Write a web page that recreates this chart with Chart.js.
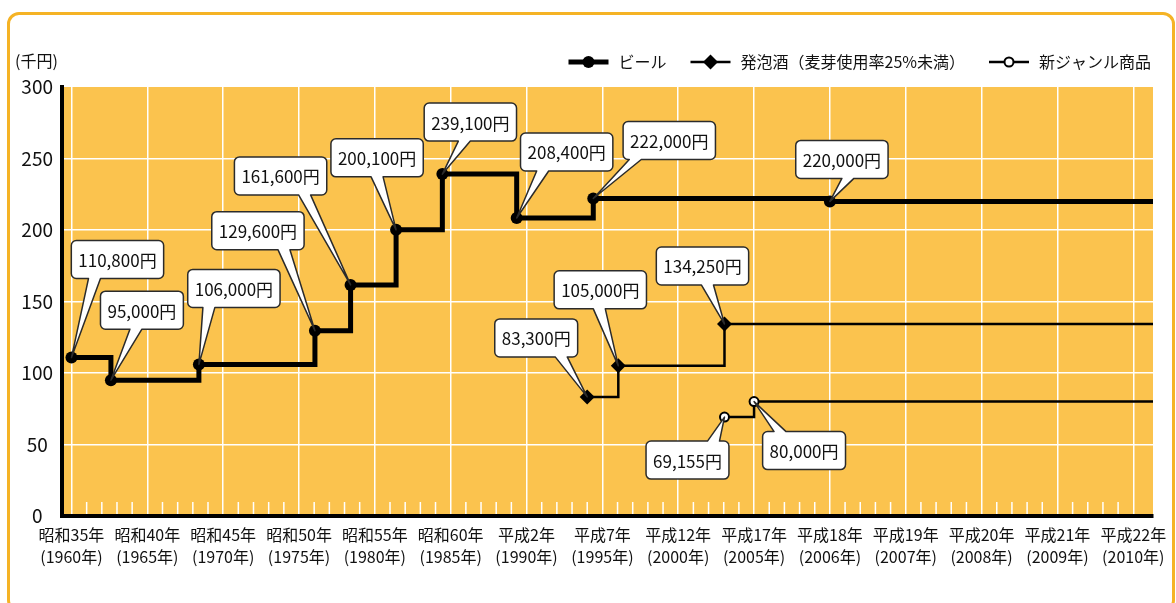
<!DOCTYPE html>
<html lang="ja">
<head>
<meta charset="utf-8">
<title>ビール・発泡酒・新ジャンル商品の税額の推移</title>
<script src="https://cdn.jsdelivr.net/npm/chart.js@4.4.1/dist/chart.umd.min.js"></script>
<style>
  html, body { margin: 0; padding: 0; background: #fff; }
  #wrap { position: relative; width: 1176px; height: 603px; overflow: hidden; }
  #frame {
    position: absolute; left: 7px; top: 12px; width: 1168px; height: 600px;
    border: 3.5px solid #f5b325; border-radius: 12px; box-sizing: border-box;
  }
  #chart { position: absolute; left: 0; top: 0; }
</style>
</head>
<body>
<div id="wrap">
  <div id="frame"></div>
  <canvas id="chart" width="1176" height="603"></canvas>
</div>
<script>
(function() {
  'use strict';

  // x axis: 5-year steps up to 2005, then one step per year
  var tickYears = [1960, 1965, 1970, 1975, 1980, 1985, 1990, 1995, 2000, 2005, 2006, 2007, 2008, 2009, 2010];
  var tickEras = ['昭和35年', '昭和40年', '昭和45年', '昭和50年', '昭和55年', '昭和60年', '平成2年',
    '平成7年', '平成12年', '平成17年', '平成18年', '平成19年', '平成20年', '平成21年', '平成22年'];
  var yTicks = [0, 50, 100, 150, 200, 250, 300];

  var seriesNames = ['ビール', '発泡酒（麦芽使用率25%未満）', '新ジャンル商品'];

  // tax per kl (yen), year of change
  var beerYears = [1960, 1962.6, 1968.4, 1976.05, 1978.4, 1981.4, 1984.45, 1989.35, 1994.4, 2006];
  var beerValues = [110800, 95000, 106000, 129600, 161600, 200100, 239100, 208400, 222000, 220000];
  var happoYears = [1994, 1996.05, 2003.05];
  var happoValues = [83300, 105000, 134250];
  var newYears = [2003.05, 2005];
  var newValues = [69155, 80000];

  // callout placement: box centre offset from point, pointer base offset, side of box
  var beerCallouts = [
    { dx: 46, dy: -117, base: -23, side: 'bottom' },
    { dx: 31, dy: -89, base: -6, side: 'bottom' },
    { dx: 35, dy: -95, base: -25, side: 'bottom' },
    { dx: -57, dy: -119, base: 26, side: 'bottom' },
    { dx: -70, dy: -128, base: 24, side: 'bottom' },
    { dx: -19, dy: -91, base: 0, side: 'bottom' },
    { dx: 28, dy: -71, base: -6, side: 'bottom' },
    { dx: 50, dy: -85, base: -24, side: 'bottom' },
    { dx: 76, dy: -77, base: -34, side: 'bottom' },
    { dx: 12, dy: -61, base: 6, side: 'bottom' }
  ];
  var happoCallouts = [
    { dx: -51, dy: -78, base: 25, side: 'bottom' },
    { dx: -18, dy: -95, base: -1, side: 'bottom' },
    { dx: -22, dy: -77, base: 5, side: 'bottom' }
  ];
  var newCallouts = [
    { dx: -37, dy: 24, base: 26, side: 'top' },
    { dx: 50, dy: 30, base: -24, side: 'top' }
  ];

  var X_MIN = -0.125;
  var X_MAX = 14.26;
  var FONT = '"Noto Sans CJK JP", sans-serif';
  var PLOT_BG = '#fbc34e';

  function yearToPos(y) {
    return y <= 2005 ? (y - 1960) / 5 : 9 + (y - 2005);
  }

  function yen(v) {
    return v.toLocaleString('en-US') + '円';
  }

  function buildData(years, values) {
    var pts = years.map(function(y, i) {
      return { x: yearToPos(y), y: values[i] / 1000 };
    });
    // line runs on to the right edge at the last rate
    pts.push({ x: X_MAX, y: values[values.length - 1] / 1000 });
    return pts;
  }

  function radii(years, r) {
    return years.map(function() { return r; }).concat([0]);
  }

  var datasets = [
    {
      label: seriesNames[0],
      data: buildData(beerYears, beerValues),
      stepped: true,
      borderColor: '#000',
      borderWidth: 5,
      pointStyle: 'circle',
      pointRadius: radii(beerYears, 6),
      pointBackgroundColor: '#000',
      pointBorderColor: '#000',
      pointBorderWidth: 0,
      callouts: beerCallouts,
      values: beerValues
    },
    {
      label: seriesNames[1],
      data: buildData(happoYears, happoValues),
      stepped: true,
      borderColor: '#000',
      borderWidth: 2.5,
      pointStyle: 'rectRot',
      pointRadius: radii(happoYears, 7.5),
      pointBackgroundColor: '#000',
      pointBorderColor: '#000',
      pointBorderWidth: 0,
      callouts: happoCallouts,
      values: happoValues
    },
    {
      label: seriesNames[2],
      data: buildData(newYears, newValues),
      stepped: true,
      borderColor: '#000',
      borderWidth: 2.5,
      pointStyle: 'circle',
      pointRadius: radii(newYears, 4.5),
      pointBackgroundColor: '#fff',
      pointBorderColor: '#000',
      pointBorderWidth: 2,
      callouts: newCallouts,
      values: newValues
    }
  ];

  var plotBackground = {
    id: 'plotBackground',
    beforeDraw: function(chart) {
      var a = chart.chartArea;
      var ctx = chart.ctx;
      ctx.save();
      ctx.fillStyle = PLOT_BG;
      ctx.fillRect(a.left, a.top, a.right - a.left, a.bottom - a.top);
      ctx.restore();
    }
  };

  // small white ticks along the bottom, four between each labelled year
  var minorTicks = {
    id: 'minorTicks',
    beforeDatasetsDraw: function(chart) {
      var xs = chart.scales.x;
      var a = chart.chartArea;
      var ctx = chart.ctx;
      ctx.save();
      ctx.strokeStyle = '#fff';
      ctx.lineWidth = 1.5;
      ctx.beginPath();
      for (var i = 0; i < tickYears.length - 1; i++) {
        var p0 = xs.getPixelForValue(yearToPos(tickYears[i]));
        var p1 = xs.getPixelForValue(yearToPos(tickYears[i + 1]));
        for (var k = 1; k < 5; k++) {
          var px = p0 + (p1 - p0) * k / 5;
          ctx.moveTo(px, a.bottom - 2);
          ctx.lineTo(px, a.bottom - 14);
        }
      }
      ctx.stroke();
      ctx.restore();
    }
  };

  function calloutPath(ctx, l, t, w, h, r, side, b1, b2, tx, ty) {
    var rt = l + w, bt = t + h;
    ctx.beginPath();
    ctx.moveTo(l + r, t);
    if (side === 'top') {
      ctx.lineTo(b1, t);
      ctx.lineTo(tx, ty);
      ctx.lineTo(b2, t);
    }
    ctx.arcTo(rt, t, rt, bt, r);
    ctx.arcTo(rt, bt, l, bt, r);
    if (side === 'bottom') {
      ctx.lineTo(b2, bt);
      ctx.lineTo(tx, ty);
      ctx.lineTo(b1, bt);
    }
    ctx.arcTo(l, bt, l, t, r);
    ctx.arcTo(l, t, rt, t, r);
    ctx.closePath();
  }

  var callouts = {
    id: 'callouts',
    afterDatasetsDraw: function(chart) {
      var ctx = chart.ctx;
      ctx.save();
      ctx.font = '17px ' + FONT;
      ctx.textAlign = 'center';
      ctx.textBaseline = 'middle';
      chart.data.datasets.forEach(function(ds, di) {
        var meta = chart.getDatasetMeta(di);
        ds.callouts.forEach(function(c, i) {
          var pt = meta.data[i];
          var text = yen(ds.values[i]);
          var w = ctx.measureText(text).width + 14;
          var h = 38;
          var cx = pt.x + c.dx;
          var l = cx - w / 2;
          var t = pt.y + c.dy;
          var bx = cx + c.base;
          calloutPath(ctx, l, t, w, h, 5, c.side, bx - 6, bx + 6, pt.x, pt.y);
          ctx.fillStyle = '#fff';
          ctx.fill();
          ctx.strokeStyle = '#2b2b2b';
          ctx.lineWidth = 1.5;
          ctx.lineJoin = 'round';
          ctx.stroke();
          ctx.fillStyle = '#111';
          ctx.fillText(text, cx, t + h / 2 + 1);
        });
      });
      ctx.restore();
    }
  };

  // legend (line + marker samples) and unit label
  var legendAndUnit = {
    id: 'legendAndUnit',
    afterDraw: function(chart) {
      var ctx = chart.ctx;
      ctx.save();
      ctx.font = '16px ' + FONT;
      ctx.fillStyle = '#111';
      ctx.textBaseline = 'middle';
      ctx.textAlign = 'left';
      ctx.fillText('(千円)', 15, 61);

      var sampleLen = 40, gapText = 10, gapItem = 24, y = 62;
      var sets = chart.data.datasets;
      var widths = sets.map(function(ds) { return ctx.measureText(ds.label).width; });
      var total = 0;
      widths.forEach(function(w) { total += sampleLen + gapText + w; });
      total += gapItem * (sets.length - 1);
      var x = 1151 - total;
      sets.forEach(function(ds, i) {
        ctx.strokeStyle = ds.borderColor;
        ctx.lineWidth = ds.borderWidth;
        ctx.beginPath();
        ctx.moveTo(x, y);
        ctx.lineTo(x + sampleLen, y);
        ctx.stroke();
        ctx.fillStyle = ds.pointBackgroundColor;
        ctx.strokeStyle = ds.pointBorderColor;
        ctx.lineWidth = ds.pointBorderWidth;
        Chart.helpers.drawPoint(ctx, {
          pointStyle: ds.pointStyle,
          radius: ds.pointRadius[0],
          rotation: 0,
          borderWidth: ds.pointBorderWidth
        }, x + sampleLen / 2, y);
        ctx.fillStyle = '#111';
        ctx.fillText(ds.label, x + sampleLen + gapText, y);
        x += sampleLen + gapText + widths[i] + gapItem;
      });
      ctx.restore();
    }
  };

  Chart.defaults.font.family = FONT;
  Chart.defaults.color = '#111';

  new Chart(document.getElementById('chart').getContext('2d'), {
    type: 'line',
    data: { datasets: datasets },
    options: {
      responsive: false,
      animation: false,
      events: [],
      layout: { padding: { top: 87, right: 23, bottom: 0, left: 0 } },
      plugins: {
        legend: { display: false },
        tooltip: { enabled: false }
      },
      scales: {
        x: {
          type: 'linear',
          min: X_MIN,
          max: X_MAX,
          afterBuildTicks: function(scale) {
            scale.ticks = tickYears.map(function(y) { return { value: yearToPos(y) }; });
          },
          afterFit: function(scale) { scale.height = 87; },
          ticks: {
            autoSkip: false,
            maxRotation: 0,
            padding: 8,
            font: { size: 16, lineHeight: 1.375 },
            callback: function(value, index) {
              return [tickEras[index], '(' + tickYears[index] + '年)'];
            }
          },
          grid: { color: '#fff', lineWidth: 1.5, drawTicks: false },
          border: { display: true, color: '#000', width: 4 }
        },
        y: {
          min: 0,
          max: 300,
          afterBuildTicks: function(scale) {
            scale.ticks = yTicks.map(function(v) { return { value: v }; });
          },
          afterFit: function(scale) { scale.width = 62; },
          ticks: { padding: 9, crossAlign: 'center', font: { size: 19 } },
          grid: {
            color: function(c) { return c.tick && c.tick.value === 300 ? 'rgba(0,0,0,0)' : '#fff'; },
            lineWidth: 1.5,
            drawTicks: false
          },
          border: { display: true, color: '#000', width: 4 }
        }
      }
    },
    plugins: [plotBackground, minorTicks, callouts, legendAndUnit]
  });
})();
</script>
</body>
</html>
